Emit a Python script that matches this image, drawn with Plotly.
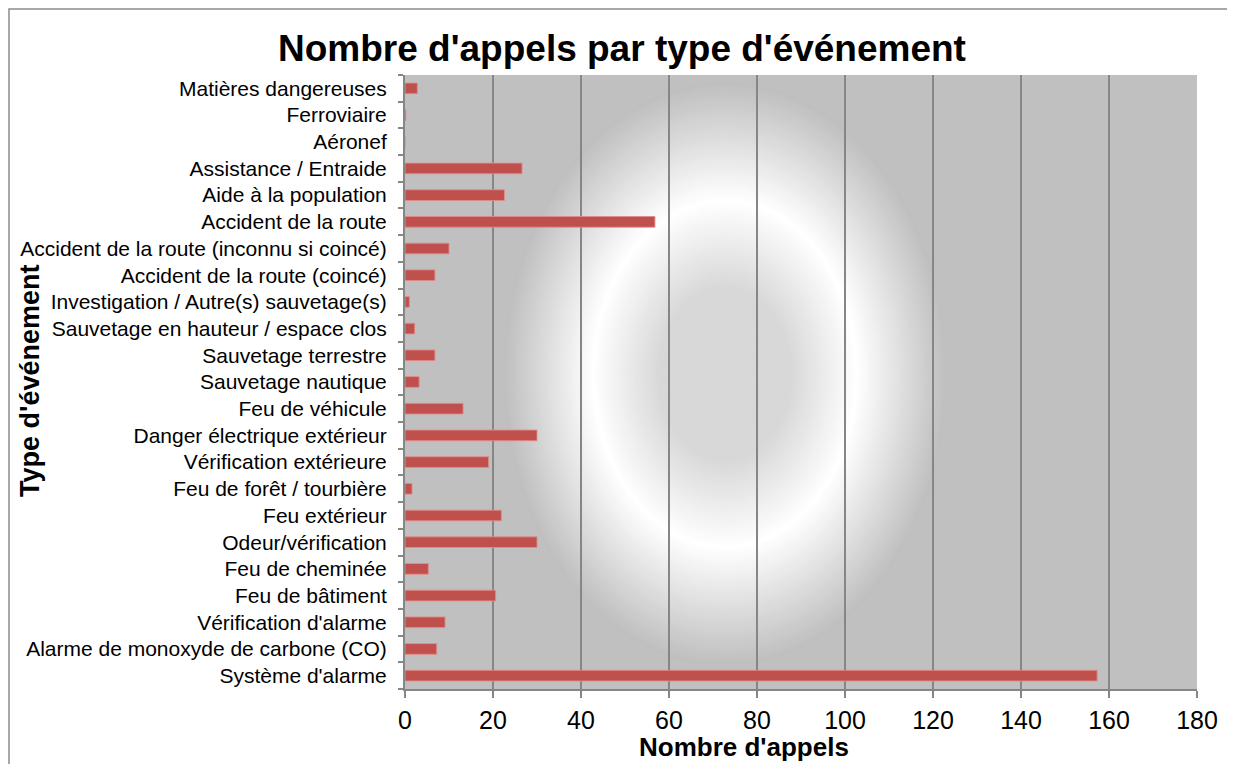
import plotly.graph_objects as go

# categories listed bottom -> top, as plotted
categories = [
    "Système d'alarme",
    "Alarme de monoxyde de carbone (CO)",
    "Vérification d'alarme",
    "Feu de bâtiment",
    "Feu de cheminée",
    "Odeur/vérification",
    "Feu extérieur",
    "Feu de forêt / tourbière",
    "Vérification extérieure",
    "Danger électrique extérieur",
    "Feu de véhicule",
    "Sauvetage nautique",
    "Sauvetage terrestre",
    "Sauvetage en hauteur / espace clos",
    "Investigation / Autre(s) sauvetage(s)",
    "Accident de la route (coincé)",
    "Accident de la route (inconnu si coincé)",
    "Accident de la route",
    "Aide à la population",
    "Assistance / Entraide",
    "Aéronef",
    "Ferroviaire",
    "Matières dangereuses",
]
appels = [157.3, 7.2, 9.1, 20.6, 5.3, 30, 21.9, 1.6, 19, 30, 13.2, 3.2, 6.8,
          2.2, 1, 6.8, 10, 56.8, 22.6, 26.6, 0, 0.2, 2.8]
x_ticks = [0, 20, 40, 60, 80, 100, 120, 140, 160, 180]

# the page body adds an 8px offset, so the figure is laid out 8px up/left
OFF = 8
W, H = 1235 - OFF, 772 - 2 * OFF
ML, MT = 405 - OFF, 75 - OFF
MR = W - (1197 - OFF)
MB = H - (689 - OFF)
pw, ph = W - ML - MR, H - MT - MB

grid = '#868686'
font = "Liberation Sans, Arial, sans-serif"


def px_x(p):  # page pixel -> paper x
    return (p - OFF - ML) / pw


def px_y(p):  # page pixel -> paper y
    return (H - MB - (p - OFF)) / ph


fig = go.Figure(go.Bar(
    x=appels, y=categories, orientation='h',
    marker_color='#C0504D',
    marker_line=dict(color='rgba(225,140,138,0.9)', width=1),
))

# radial gradient background (concentric ellipses)
cx_px, cy_px = 725, 374
rx_out, ry_out = 222, 292
profile = [(0.0, 216), (0.3, 216), (0.6, 255), (1.0, 191)]


def grey_at(t):
    for (t0, g0), (t1, g1) in zip(profile[:-1], profile[1:]):
        if t0 <= t <= t1:
            return g0 + (g1 - g0) * (t - t0) / (t1 - t0)
    return profile[-1][1]


n_rings = 90
for i in range(n_rings):
    t = 1 - i / n_rings
    g = int(round(grey_at(t)))
    rx, ry = rx_out * t, ry_out * t
    fig.add_shape(type='circle', xref='paper', yref='paper', layer='below',
                  x0=px_x(cx_px - rx), x1=px_x(cx_px + rx),
                  y0=px_y(cy_px + ry), y1=px_y(cy_px - ry),
                  fillcolor='rgb(%d,%d,%d)' % (g, g, g), line_width=0)

# outer chart border
fig.add_shape(type='rect', xref='paper', yref='paper', layer='above',
              x0=px_x(9), x1=px_x(1233), y0=px_y(800), y1=px_y(9),
              line=dict(color='#8c8c8c', width=1.5), fillcolor='rgba(0,0,0,0)')

fig.add_annotation(text="<b>Nombre d'appels</b>", xref='paper', yref='paper',
                   x=px_x(744), y=px_y(747), showarrow=False,
                   xanchor='center', yanchor='middle',
                   font=dict(family=font, size=26, color='black'))
fig.add_annotation(text="<b>Type d'événement</b>", xref='paper', yref='paper',
                   x=px_x(30), y=px_y(381), showarrow=False,
                   textangle=-90, xanchor='center', yanchor='middle',
                   font=dict(family=font, size=27, color='black'))

fig.update_layout(
    width=W, height=H, autosize=False,
    margin=dict(l=ML, r=MR, t=MT, b=MB),
    paper_bgcolor='white', plot_bgcolor='#C0C0C0',
    showlegend=False, bargap=0.6,
    font=dict(family=font, color='black'),
    title=dict(text="<b>Nombre d'appels par type d'événement</b>",
               x=(622 - OFF) / W, xanchor='center',
               y=1 - (48 - OFF) / H, yanchor='middle',
               font=dict(family=font, size=37, color='black')),
)
fig.update_xaxes(range=[0, 180], tickvals=x_ticks, showgrid=True,
                 gridcolor=grid, gridwidth=1.5, zeroline=False,
                 showline=True, linecolor=grid, linewidth=2,
                 ticks='outside', ticklen=7, tickcolor=grid, tickwidth=1.5,
                 ticklabelstandoff=1,
                 tickfont=dict(size=25, family=font, color='black'))
fig.update_yaxes(type='category', categoryorder='array', categoryarray=categories,
                 showgrid=False, zeroline=False,
                 showline=True, linecolor=grid, linewidth=2,
                 ticks='outside', tickson='boundaries', ticklen=5,
                 tickcolor=grid, tickwidth=1.5, ticklabelstandoff=12,
                 tickfont=dict(size=21, family=font, color='black'))

fig.write_html("out.html")
